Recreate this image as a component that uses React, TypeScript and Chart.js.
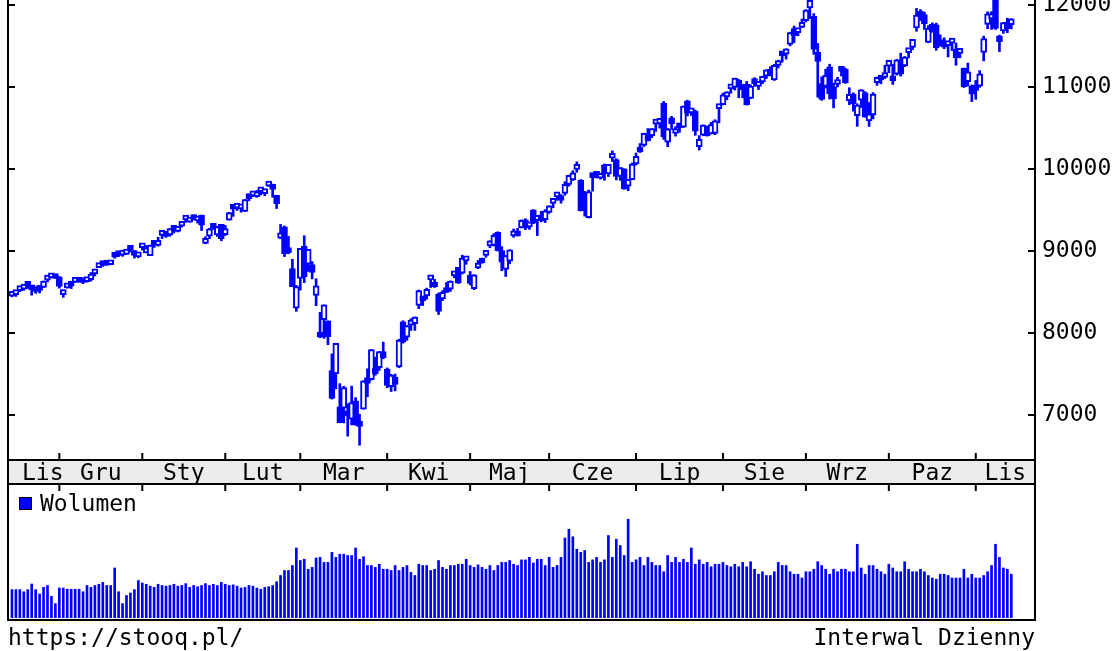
import React, { useEffect, useRef } from 'react';
import { Chart, registerables } from 'chart.js';

Chart.register(...registerables);

const FONT = '"DejaVu Sans Mono", monospace';
const BLUE = '#0000ff';

const monthNames = ['Sty', 'Lut', 'Mar', 'Kwi', 'Maj', 'Cze', 'Lip', 'Sie', 'Wrz', 'Paz', 'Lis', 'Gru'];
const priceTicks = [7000, 8000, 9000, 10000, 11000, 12000];

const dates = [
  '2019-11-13','2019-11-14','2019-11-15','2019-11-18','2019-11-19','2019-11-20','2019-11-21','2019-11-22','2019-11-25','2019-11-26','2019-11-27','2019-11-29',
  '2019-12-02','2019-12-03','2019-12-04','2019-12-05','2019-12-06','2019-12-09','2019-12-10','2019-12-11','2019-12-12','2019-12-13','2019-12-16','2019-12-17','2019-12-18','2019-12-19','2019-12-20','2019-12-23','2019-12-24','2019-12-26','2019-12-27','2019-12-30','2019-12-31',
  '2020-01-02','2020-01-03','2020-01-06','2020-01-07','2020-01-08','2020-01-09','2020-01-10','2020-01-13','2020-01-14','2020-01-15','2020-01-16','2020-01-17','2020-01-21','2020-01-22','2020-01-23','2020-01-24','2020-01-27','2020-01-28','2020-01-29','2020-01-30','2020-01-31',
  '2020-02-03','2020-02-04','2020-02-05','2020-02-06','2020-02-07','2020-02-10','2020-02-11','2020-02-12','2020-02-13','2020-02-14','2020-02-18','2020-02-19','2020-02-20','2020-02-21','2020-02-24','2020-02-25','2020-02-26','2020-02-27','2020-02-28',
  '2020-03-02','2020-03-03','2020-03-04','2020-03-05','2020-03-06','2020-03-09','2020-03-10','2020-03-11','2020-03-12','2020-03-13','2020-03-16','2020-03-17','2020-03-18','2020-03-19','2020-03-20','2020-03-23','2020-03-24','2020-03-25','2020-03-26','2020-03-27','2020-03-30','2020-03-31',
  '2020-04-01','2020-04-02','2020-04-03','2020-04-06','2020-04-07','2020-04-08','2020-04-09','2020-04-13','2020-04-14','2020-04-15','2020-04-16','2020-04-17','2020-04-20','2020-04-21','2020-04-22','2020-04-23','2020-04-24','2020-04-27','2020-04-28','2020-04-29','2020-04-30',
  '2020-05-01','2020-05-04','2020-05-05','2020-05-06','2020-05-07','2020-05-08','2020-05-11','2020-05-12','2020-05-13','2020-05-14','2020-05-15','2020-05-18','2020-05-19','2020-05-20','2020-05-21','2020-05-22','2020-05-26','2020-05-27','2020-05-28','2020-05-29',
  '2020-06-01','2020-06-02','2020-06-03','2020-06-04','2020-06-05','2020-06-08','2020-06-09','2020-06-10','2020-06-11','2020-06-12','2020-06-15','2020-06-16','2020-06-17','2020-06-18','2020-06-19','2020-06-22','2020-06-23','2020-06-24','2020-06-25','2020-06-26','2020-06-29','2020-06-30',
  '2020-07-01','2020-07-02','2020-07-06','2020-07-07','2020-07-08','2020-07-09','2020-07-10','2020-07-13','2020-07-14','2020-07-15','2020-07-16','2020-07-17','2020-07-20','2020-07-21','2020-07-22','2020-07-23','2020-07-24','2020-07-27','2020-07-28','2020-07-29','2020-07-30','2020-07-31',
  '2020-08-03','2020-08-04','2020-08-05','2020-08-06','2020-08-07','2020-08-10','2020-08-11','2020-08-12','2020-08-13','2020-08-14','2020-08-17','2020-08-18','2020-08-19','2020-08-20','2020-08-21','2020-08-24','2020-08-25','2020-08-26','2020-08-27','2020-08-28','2020-08-31',
  '2020-09-01','2020-09-02','2020-09-03','2020-09-04','2020-09-08','2020-09-09','2020-09-10','2020-09-11','2020-09-14','2020-09-15','2020-09-16','2020-09-17','2020-09-18','2020-09-21','2020-09-22','2020-09-23','2020-09-24','2020-09-25','2020-09-28','2020-09-29','2020-09-30',
  '2020-10-01','2020-10-02','2020-10-05','2020-10-06','2020-10-07','2020-10-08','2020-10-09','2020-10-12','2020-10-13','2020-10-14','2020-10-15','2020-10-16','2020-10-19','2020-10-20','2020-10-21','2020-10-22','2020-10-23','2020-10-26','2020-10-27','2020-10-28','2020-10-29','2020-10-30',
  '2020-11-02','2020-11-03','2020-11-04','2020-11-05','2020-11-06','2020-11-09','2020-11-10','2020-11-11','2020-11-12','2020-11-13',
];

const opens = [
  8448,8467,8516,8535,8580,8542,8524,8528,8556,8644,8673,8690,
  8684,8467,8551,8590,8618,8647,8618,8627,8651,8720,8797,8827,8836,8832,8930,8953,8950,8958,9049,9004,8928,
  9039,8977,8944,9072,9069,9191,9224,9195,9265,9240,9302,9378,9353,9409,9366,9437,9092,9180,9307,9196,9324,
  9200,9376,9540,9523,9513,9482,9660,9672,9662,9723,9700,9792,9802,9680,9156,9294,9011,8784,8304,
  8667,9058,8839,8833,8458,7987,8162,8148,7541,7505,7099,7082,7021,6950,7174,6894,7070,7456,7431,7568,7576,7772,
  7560,7345,7460,7586,8135,7950,8096,8113,8335,8419,8452,8648,8593,8473,8415,8503,8534,8697,8800,8731,8879,
  8707,8542,8793,8861,8947,9063,9068,9227,9005,8774,8876,9185,9238,9280,9380,9295,9501,9373,9440,9382,
  9471,9580,9660,9662,9703,9812,9867,9995,9861,9696,9405,9950,9942,9887,10052,9939,10131,10116,9908,10001,9790,9869,
  10062,10238,10289,10413,10407,10547,10551,10800,10328,10625,10433,10529,10509,10832,10684,10706,10272,10411,10514,10427,10433,10736,
  10783,10880,10977,10994,11081,11025,11036,10862,11047,11008,11062,11133,11220,11087,11262,11412,11400,11518,11711,11663,11727,
  11809,11965,11861,11424,11042,11007,11247,11004,11030,11206,11214,10832,10915,10650,10840,10930,10586,10660,11052,11111,11116,
  11253,11132,11156,11329,11256,11419,11482,11721,11895,11883,11544,11764,11759,11571,11512,11505,11535,11461,11410,11230,11064,11010,
  11011,11011,11423,11764,11830,12095,11623,11684,11792,11760,
];

const highs = [
  8485,8484,8541,8556,8583,8554,8531,8531,8634,8650,8711,8693,
  8689,8526,8583,8592,8669,8669,8646,8656,8738,8765,8833,8834,8855,8887,8946,8956,8955,9022,9052,9006,8973,
  9093,9066,9072,9092,9168,9204,9227,9274,9279,9299,9357,9390,9398,9440,9403,9437,9175,9277,9322,9301,9324,
  9313,9472,9541,9573,9549,9629,9685,9727,9738,9736,9747,9838,9816,9680,9324,9305,9179,8899,8580,
  9031,9186,9019,8871,8662,8253,8344,8148,7745,7875,7382,7350,7136,7352,7212,7009,7418,7564,7798,7705,7774,7889,
  7574,7496,7500,7925,8149,8091,8174,8196,8524,8433,8547,8669,8654,8488,8516,8616,8635,8751,8800,8949,8926,
  8750,8712,8885,8913,8996,9125,9212,9234,9053,8943,9015,9269,9275,9380,9393,9328,9504,9412,9484,9505,
  9553,9608,9699,9688,9845,9925,9980,10087,9872,9726,9744,9951,9971,9949,10061,10057,10221,10126,10018,10003,9875,10074,
  10195,10310,10436,10493,10492,10567,10617,10824,10494,10642,10517,10537,10768,10839,10730,10719,10407,10539,10522,10568,10601,10746,
  10925,10942,11003,11108,11092,11033,11068,11026,11113,11042,11131,11210,11247,11277,11327,11418,11467,11668,11743,11703,11829,
  11945,12074,11895,11531,11125,11216,11278,11045,11118,11244,11231,10991,10929,10795,10969,10943,10811,10932,11121,11134,11265,
  11327,11278,11338,11412,11373,11435,11580,11958,11945,11913,11750,11783,11779,11636,11600,11552,11548,11536,11448,11231,11292,11026,
  11080,11200,11620,11917,11920,12108,11632,11788,11839,11834,
];

const lows = [
  8441,8446,8505,8520,8542,8461,8484,8488,8556,8622,8673,8665,
  8547,8435,8546,8541,8617,8619,8602,8620,8633,8695,8797,8812,8823,8832,8912,8932,8935,8958,8988,8914,8918,
  9011,8976,8943,9043,9059,9151,9165,9181,9219,9232,9291,9350,9349,9381,9340,9250,9088,9150,9264,9177,9124,
  9188,9376,9422,9494,9473,9480,9612,9662,9654,9683,9674,9786,9655,9518,9149,8932,8966,8565,8265,
  8523,8614,8752,8659,8333,7943,7934,7857,7194,7319,6904,6903,6742,6879,6873,6631,7070,7222,7425,7485,7544,7686,
  7332,7286,7294,7576,7876,7910,8031,8032,8297,8334,8412,8555,8555,8225,8395,8492,8507,8673,8604,8720,8838,
  8585,8528,8784,8850,8923,9039,9061,9001,8759,8689,8844,9167,9182,9280,9260,9263,9333,9188,9355,9347,
  9459,9527,9618,9583,9680,9790,9860,9960,9488,9425,9402,9730,9890,9876,9863,9908,10092,9867,9861,9752,9735,9868,
  10048,10201,10274,10342,10382,10458,10499,10360,10272,10483,10401,10447,10507,10647,10653,10411,10231,10405,10401,10427,10419,10563,
  10782,10845,10925,10963,10870,10868,10780,10858,11009,10969,11041,11102,11136,11080,11232,11302,11340,11501,11540,11625,11724,
  11794,11833,11399,10875,10837,10987,10853,10746,11000,11134,11045,10785,10705,10520,10749,10632,10519,10611,11020,11039,11103,
  11174,11031,11145,11132,11248,11354,11456,11680,11810,11702,11540,11667,11448,11499,11467,11367,11445,11265,11355,10994,11011,10822,
  10850,10996,11319,11711,11702,11702,11430,11654,11663,11708,
];

const closes = [
  8482,8479,8541,8550,8570,8527,8506,8520,8633,8648,8705,8665,
  8568,8521,8567,8570,8656,8621,8616,8654,8717,8735,8814,8823,8827,8887,8925,8945,8952,9022,9007,8945,8973,
  9093,9021,9071,9069,9129,9203,9179,9274,9252,9259,9357,9389,9370,9383,9402,9315,9139,9270,9276,9299,9151,
  9273,9467,9509,9572,9521,9628,9638,9726,9712,9731,9733,9817,9751,9577,9221,8966,8981,8566,8567,
  9031,8684,9019,8739,8576,7950,8344,7952,7201,7875,6905,7335,6989,7151,6880,6861,7418,7384,7798,7502,7774,7700,
  7360,7487,7373,7913,7887,8091,8153,8193,8516,8393,8532,8650,8561,8263,8495,8494,8634,8730,8607,8915,8890,
  8605,8710,8809,8854,8979,9121,9192,9002,8863,8943,9014,9235,9185,9375,9284,9324,9340,9412,9368,9490,
  9552,9608,9683,9616,9814,9924,9953,10020,9493,9589,9726,9895,9911,9943,9946,10056,10131,9910,10017,9757,9875,10059,
  10155,10207,10434,10344,10492,10548,10617,10391,10489,10550,10474,10503,10767,10680,10706,10461,10363,10536,10402,10543,10587,10745,
  10903,10941,10998,11108,11011,10968,10782,11012,11042,11019,11129,11210,11146,11264,11312,11380,11466,11665,11625,11696,11775,
  11939,12056,11458,11313,10848,11142,10919,10854,11057,11191,11050,10910,10794,10779,10964,10633,10672,10914,11118,11085,11168,
  11326,11076,11332,11155,11365,11420,11580,11876,11863,11768,11714,11672,11479,11517,11485,11506,11548,11359,11431,11005,11186,10912,
  10958,11161,11590,11891,11895,11714,11554,11786,11710,11830,
];

// volume in billions of shares (approximate)
const volumes = [
  2.27,2.27,2.27,2.1,2.27,2.72,2.27,1.92,2.45,2.59,1.73,1.15,
  2.4,2.4,2.3,2.3,2.3,2.3,2.1,2.6,2.45,2.6,2.7,2.85,2.6,2.6,4.0,2.1,1.15,1.8,2.0,2.27,3.0,
  2.8,2.7,2.55,2.45,2.7,2.6,2.55,2.6,2.7,2.55,2.6,2.75,2.45,2.6,2.5,2.6,2.75,2.6,2.7,2.6,2.85,
  2.7,2.6,2.65,2.55,2.4,2.45,2.6,2.55,2.4,2.3,2.45,2.5,2.6,2.9,3.4,3.8,3.8,4.2,5.6,
  4.6,4.7,3.9,4.05,4.8,4.85,4.45,4.45,5.25,4.85,5.1,5.1,5.0,5.0,5.6,4.7,4.9,4.2,4.2,4.05,4.3,3.9,
  3.9,3.8,4.2,3.8,4.05,4.2,3.65,3.4,4.3,4.2,4.2,3.8,3.9,4.6,4.05,3.9,4.2,4.2,4.3,4.3,4.7,
  4.2,4.05,4.25,4.05,3.9,4.2,3.8,4.2,4.45,4.45,4.6,4.3,4.2,4.65,4.65,4.85,4.4,4.7,4.7,4.2,
  4.85,4.05,4.2,4.85,6.4,7.1,6.5,5.5,5.25,5.4,4.45,4.65,4.85,4.45,4.65,6.6,4.85,6.3,5.8,5.0,7.9,4.45,
  4.65,4.85,4.2,4.85,4.45,4.2,4.2,3.7,5.0,4.45,4.85,4.45,4.7,4.45,5.6,4.3,4.65,4.3,4.45,4.1,4.3,4.3,
  4.45,4.2,4.1,4.3,4.1,4.45,4.1,4.5,3.9,3.5,3.7,3.4,3.4,3.7,4.45,4.2,4.2,3.7,3.5,3.5,3.2,
  3.7,3.7,3.9,4.5,4.2,3.9,3.5,3.9,3.7,3.9,3.9,3.7,3.7,5.9,4.0,3.5,4.2,4.2,3.9,3.7,3.5,
  4.3,4.0,3.7,3.7,4.5,3.9,3.7,3.7,3.9,3.7,3.4,3.2,3.1,3.5,3.5,3.4,3.2,3.2,3.2,3.9,3.2,3.5,
  3.2,3.2,3.4,3.7,4.2,5.9,4.85,4.0,3.9,3.5,
];

const X_MIN = -1;
const X_MAX = 259;

function monthStarts(): number[] {
  const res: number[] = [];
  for (let i = 1; i < dates.length; i++) {
    if (dates[i].slice(5, 7) !== dates[i - 1].slice(5, 7)) res.push(i);
  }
  return res;
}

export default function App() {
  const topRef = useRef<HTMLCanvasElement>(null);
  const volRef = useRef<HTMLCanvasElement>(null);

  useEffect(() => {
    const starts = monthStarts();

    const framePlugin = {
      id: 'stooqFrame',
      afterDraw(chart: any) {
        const { ctx, chartArea: a, scales } = chart;
        const xs = scales.x;
        const ys = scales.y;
        ctx.save();
        ctx.fillStyle = '#ebebeb';
        ctx.fillRect(a.left, a.bottom, a.right - a.left, 24);
        ctx.strokeStyle = '#000';
        ctx.lineWidth = 2;
        ctx.beginPath();
        ctx.moveTo(a.left, 0); ctx.lineTo(a.left, a.bottom + 32);
        ctx.moveTo(a.right, 0); ctx.lineTo(a.right, a.bottom + 32);
        ctx.moveTo(a.left, a.bottom); ctx.lineTo(a.right, a.bottom);
        ctx.moveTo(a.left, a.bottom + 24); ctx.lineTo(a.right, a.bottom + 24);
        priceTicks.forEach((v) => {
          const py = ys.getPixelForValue(v);
          ctx.moveTo(a.left, py); ctx.lineTo(a.left + 7, py);
          ctx.moveTo(a.right - 7, py); ctx.lineTo(a.right, py);
        });
        starts.forEach((i) => {
          const px = xs.getPixelForValue(i);
          ctx.moveTo(px, a.bottom - 7); ctx.lineTo(px, a.bottom);
          ctx.moveTo(px, a.bottom + 24); ctx.lineTo(px, a.bottom + 31);
        });
        ctx.stroke();
        ctx.fillStyle = '#000';
        ctx.font = `23px ${FONT}`;
        ctx.textAlign = 'center';
        ctx.textBaseline = 'alphabetic';
        const bounds = [a.left, ...starts.map((i) => xs.getPixelForValue(i)), a.right];
        const segStarts = [0, ...starts];
        segStarts.forEach((si, k) => {
          const label = monthNames[parseInt(dates[si].slice(5, 7), 10) - 1];
          const w = ctx.measureText(label).width;
          let cx = (bounds[k] + bounds[k + 1]) / 2;
          cx = Math.max(cx, a.left + 14 + w / 2);
          cx = Math.min(cx, a.right - 4 - w / 2);
          ctx.fillText(label, cx, a.bottom + 20);
        });
        ctx.restore();
      },
    };

    const volFrame = {
      id: 'volFrame',
      afterDraw(chart: any) {
        const { ctx, chartArea: a } = chart;
        ctx.save();
        ctx.strokeStyle = '#000';
        ctx.lineWidth = 2;
        ctx.beginPath();
        ctx.moveTo(a.left, 0); ctx.lineTo(a.left, a.bottom + 3);
        ctx.moveTo(a.right, 0); ctx.lineTo(a.right, a.bottom + 3);
        ctx.moveTo(a.left - 1, a.bottom + 2); ctx.lineTo(a.right + 1, a.bottom + 2);
        ctx.stroke();
        ctx.restore();
      },
    };

    const bodyColors = closes.map((c, i) => (c >= opens[i] ? '#ffffff' : BLUE));

    const top = new Chart(topRef.current as HTMLCanvasElement, {
      type: 'bar',
      data: {
        datasets: [
          {
            label: 'Knot',
            data: dates.map((_, i) => ({ x: i, y: [lows[i], highs[i]] })) as any,
            backgroundColor: BLUE,
            borderWidth: 0,
            barThickness: 2,
            grouped: false,
            order: 2,
          } as any,
          {
            label: 'Kurs',
            data: dates.map((_, i) => ({ x: i, y: [opens[i], closes[i]] })) as any,
            backgroundColor: bodyColors,
            borderColor: BLUE,
            borderWidth: 2,
            borderSkipped: false,
            barThickness: 6,
            minBarLength: 5,
            grouped: false,
            order: 1,
          } as any,
        ],
      },
      options: {
        responsive: false,
        animation: false,
        devicePixelRatio: 1,
        events: [],
        layout: { padding: { left: 8, right: 0, top: 0, bottom: 32 } },
        plugins: { legend: { display: false }, tooltip: { enabled: false } },
        scales: {
          x: { type: 'linear', min: X_MIN, max: X_MAX, display: false, offset: false },
          y: {
            type: 'linear',
            position: 'right',
            min: 6451,
            max: 12061,
            grid: { display: false, drawTicks: false },
            border: { display: false },
            ticks: {
              color: '#000',
              font: { family: FONT, size: 23 },
              padding: 7,
              callback: (v: any) => String(v),
            },
            afterBuildTicks: (s: any) => {
              s.ticks = priceTicks.map((v) => ({ value: v }));
            },
            afterFit: (s: any) => {
              s.width = 82;
              s.paddingTop = 0;
              s.paddingBottom = 0;
            },
          },
        },
      } as any,
      plugins: [framePlugin],
    });

    const vol = new Chart(volRef.current as HTMLCanvasElement, {
      type: 'bar',
      data: {
        datasets: [
          {
            label: 'Wolumen',
            data: dates.map((_, i) => ({ x: i, y: volumes[i] })) as any,
            backgroundColor: BLUE,
            borderWidth: 0,
            barThickness: 2,
          } as any,
        ],
      },
      options: {
        responsive: false,
        animation: false,
        devicePixelRatio: 1,
        events: [],
        layout: { padding: { left: 8, right: 82, top: 9, bottom: 33 } },
        plugins: { legend: { display: false }, tooltip: { enabled: false } },
        scales: {
          x: { type: 'linear', min: X_MIN, max: X_MAX, display: false, offset: false },
          y: { type: 'linear', min: 0, max: 10, display: false },
        },
      } as any,
      plugins: [volFrame],
    });

    return () => {
      top.destroy();
      vol.destroy();
    };
  }, []);

  const textStyle: React.CSSProperties = {
    position: 'absolute',
    fontFamily: FONT,
    fontSize: 23,
    lineHeight: '23px',
    color: '#000',
    whiteSpace: 'pre',
  };

  return (
    <div style={{ position: 'absolute', left: 0, top: 0, width: 1117, height: 651, background: '#fff', overflow: 'hidden' }}>
      <canvas ref={topRef} width={1117} height={492} style={{ position: 'absolute', left: 0, top: 0 }} />
      <canvas ref={volRef} width={1117} height={167} style={{ position: 'absolute', left: 0, top: 484 }} />
      <div style={{ position: 'absolute', left: 19, top: 497, width: 11, height: 11, background: BLUE, border: '1px solid #000' }} />
      <div style={{ ...textStyle, left: 40, top: 492 }}>Wolumen</div>
      <div style={{ ...textStyle, left: 8, top: 626 }}>https://stooq.pl/</div>
      <div style={{ ...textStyle, right: 82, top: 626, textAlign: 'right' }}>Interwal Dzienny</div>
    </div>
  );
}
